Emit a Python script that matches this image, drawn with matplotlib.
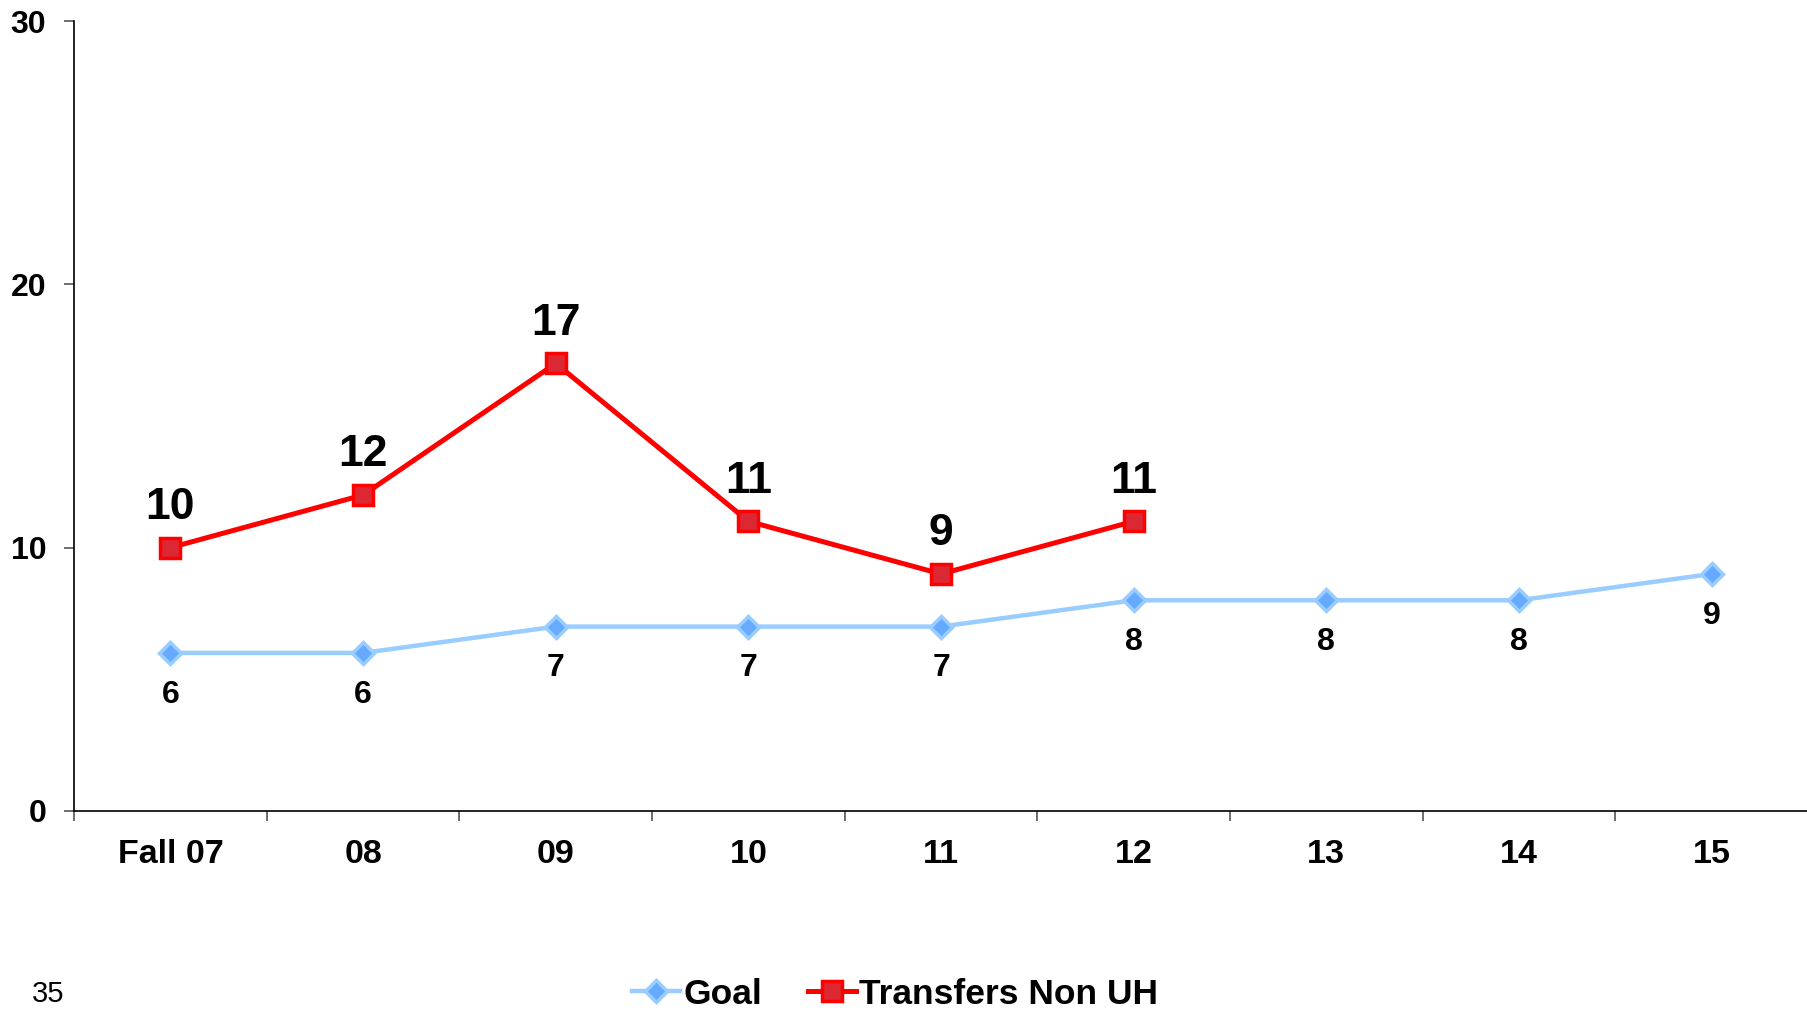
import matplotlib.pyplot as plt
import numpy as np

# Datos
categories = ["Fall 07", "08", "09", "10", "11", "12", "13", "14", "15"]
goal = [6, 6, 7, 7, 7, 8, 8, 8, 9]
transfers = [10, 12, 17, 11, 9, 11]
page_number = "35"

plt.rcParams["font.family"] = ["Liberation Sans", "DejaVu Sans"]

fig = plt.figure(figsize=(18.08, 10.11), dpi=100)
ax = fig.add_axes([0.041, 0.198, 0.959, 0.781])

x_goal = np.arange(len(goal))
x_tr = np.arange(len(transfers))

ax.plot(x_goal, goal, color="#99ccff", linewidth=3.2, marker="D", markersize=11,
        markerfacecolor="#66aaff", markeredgecolor="#99ccff", markeredgewidth=2.5,
        label="Goal", zorder=3)
ax.plot(x_tr, transfers, color="#ff0000", linewidth=3.6, marker="s", markersize=14,
        markerfacecolor="#dc2832", markeredgecolor="#ff0000", markeredgewidth=2.5,
        label="Transfers Non UH", zorder=4)

# Etiquetas de datos
for xi, v in zip(x_goal, goal):
    ax.annotate(str(v), (xi, v), xytext=(0, -30), textcoords="offset points",
                ha="center", va="center", fontsize=23, fontweight="bold")
for xi, v in zip(x_tr, transfers):
    ax.annotate(str(v), (xi, v), xytext=(0, 29), textcoords="offset points",
                ha="center", va="center", fontsize=32, fontweight="bold")

ax.set_xlim(-0.5, len(categories) - 0.5)
ax.set_ylim(0, 30)
ax.set_yticks([0, 10, 20, 30])
ax.set_xticks(x_goal)
ax.set_xticklabels(categories)
ax.set_xticks(np.arange(-0.5, len(categories), 1), minor=True)
ax.tick_params(axis="x", which="major", length=0, pad=20, labelsize=24.5)
ax.tick_params(axis="x", which="minor", length=7, width=1.2, color="#555555", direction="out")
ax.tick_params(axis="y", length=7, width=1.2, pad=13, labelsize=23, color="#555555")
for lab in ax.get_xticklabels() + ax.get_yticklabels():
    lab.set_fontweight("bold")

for s in ["top", "right"]:
    ax.spines[s].set_visible(False)
ax.spines["left"].set_linewidth(1.2)
ax.spines["bottom"].set_linewidth(1.2)

fig.legend(loc="center", bbox_to_anchor=(895 / 1808, 1 - 994 / 1011), ncol=2,
           frameon=False, prop={"size": 25.5, "weight": "bold"},
           handlelength=1.35, handletextpad=0.1, columnspacing=1.3)

fig.text(32 / 1808, 1 - 994 / 1011, page_number, fontsize=21, ha="left", va="center")

plt.savefig("out.png", dpi=100)
